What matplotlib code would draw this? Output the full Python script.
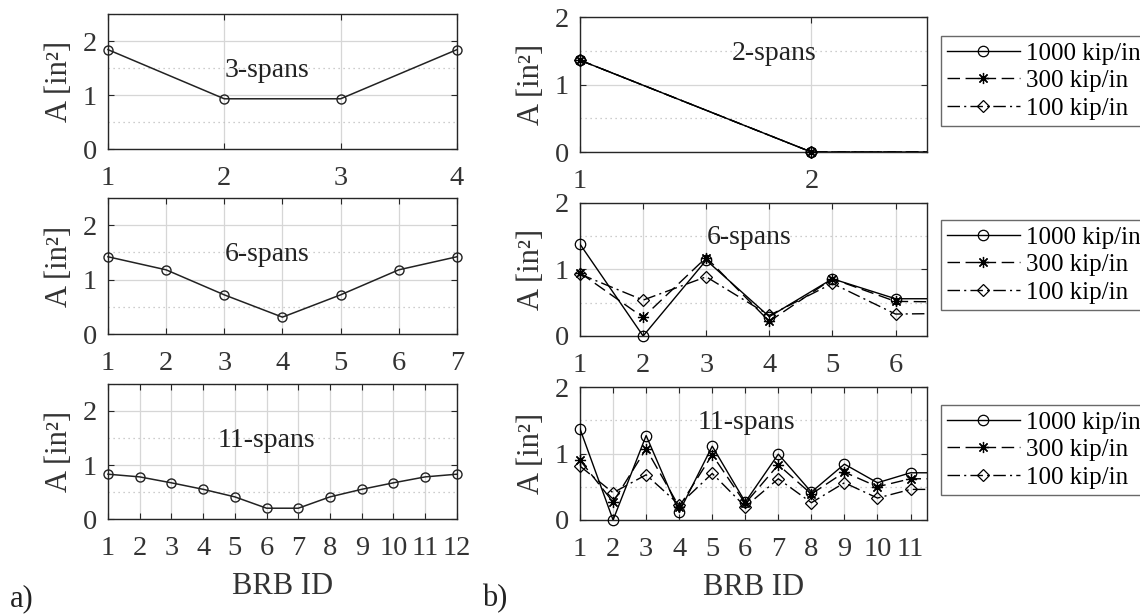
import numpy as np
import matplotlib
matplotlib.use("Agg")
import matplotlib.pyplot as plt
from matplotlib.lines import Line2D
from matplotlib.ticker import MultipleLocator

plt.rcParams['font.family'] = ['Liberation Serif', 'DejaVu Serif']
plt.rcParams['mathtext.fontset'] = 'stix'

# ---------------- data ----------------
# a) uniform stiffness designs
a_3span = [1.84, 0.93, 0.93, 1.84]
a_6span = [1.42, 1.18, 0.72, 0.31, 0.72, 1.18, 1.42]
a_11span = [0.83, 0.78, 0.67, 0.55, 0.41, 0.20, 0.20, 0.41, 0.55, 0.67, 0.78, 0.83]

# b) stiffness series (last value lies beyond the visible axis range)
series_labels = ['1000 kip/in', '300 kip/in', '100 kip/in']
b_2span = {
    '1000 kip/in': [1.36, 0.00, 0.00],
    '300 kip/in': [1.36, 0.00, 0.00],
    '100 kip/in': [1.36, 0.00, 0.00],
}
b_6span = {
    '1000 kip/in': [1.38, 0.00, 1.14, 0.29, 0.86, 0.56, 0.56],
    '300 kip/in': [0.95, 0.28, 1.18, 0.22, 0.86, 0.52, 0.51],
    '100 kip/in': [0.93, 0.54, 0.89, 0.31, 0.79, 0.33, 0.34],
}
b_11span = {
    '1000 kip/in': [1.37, 0.00, 1.27, 0.12, 1.11, 0.27, 0.99, 0.42, 0.84, 0.56, 0.71, 0.71],
    '300 kip/in': [0.90, 0.27, 1.07, 0.20, 0.98, 0.25, 0.83, 0.39, 0.72, 0.50, 0.62, 0.62],
    '100 kip/in': [0.81, 0.41, 0.68, 0.23, 0.70, 0.20, 0.62, 0.26, 0.56, 0.33, 0.46, 0.46],
}
b_visible = [2, 6, 11]  # number of BRBs shown on each b) panel

styles = {
    '1000 kip/in': dict(marker='o', dashes=(None, None), ms=7.5),
    '300 kip/in': dict(marker=(8, 2, 0), dashes=(9, 4), ms=8),
    '100 kip/in': dict(marker='D', dashes=(9, 3, 1.5, 3), ms=6.5),
}

FS_TICK = 20.5
FS_LABEL = 22
FS_TEXT = 20
FS_LEG = 18
SPINE = '#262626'

fig = plt.figure(figsize=(11.4, 6.14), dpi=100)


def style_axes(ax, ymax, yminor):
    for s in ax.spines.values():
        s.set_color(SPINE)
        s.set_linewidth(1.0)
    ax.tick_params(axis='both', which='major', direction='in', length=4,
                   width=0.8, colors=SPINE, labelcolor='#333333',
                   labelsize=FS_TICK, top=True, right=True)
    ax.tick_params(axis='x', pad=12)
    ax.tick_params(axis='y', pad=8)
    ax.tick_params(axis='both', which='minor', length=0)
    ax.set_ylim(0, ymax)
    ax.set_yticks([0, 1, 2])
    ax.yaxis.set_minor_locator(MultipleLocator(yminor))
    ax.grid(True, which='major', color='#d6d6d6', linewidth=0.9, linestyle='-')
    ax.grid(True, which='minor', axis='y', color='#bdbdbd', linewidth=0.9,
            linestyle=(0, (1, 3)))
    ax.set_axisbelow(True)
    ax.set_ylabel('A [in²]', fontsize=FS_LABEL, color='#333333', labelpad=6)


# ---------------- a) panels ----------------
a_data = [(a_3span, '3-spans'), (a_6span, '6-spans'), (a_11span, '11-spans')]
a_rects = [(0.0947, 0.7573, 0.3061, 0.2199),
           (0.0947, 0.4560, 0.3061, 0.2215),
           (0.0947, 0.1547, 0.3061, 0.2199)]
for (vals, name), rect in zip(a_data, a_rects):
    ax = fig.add_axes(rect)
    x = np.arange(1, len(vals) + 1)
    ax.plot(x, vals, color='#222222', lw=1.1, marker='o', ms=6.5,
            mfc='none', mec='#222222', mew=1.0, clip_on=False, zorder=5)
    ax.set_xlim(1, len(vals))
    ax.set_xticks(x)
    style_axes(ax, 2.5, 0.5)
    ax.text(0.455, 0.585, name, transform=ax.transAxes, ha='center',
            va='center', fontsize=FS_TEXT, color='#222222')
    last_a = ax
last_a.set_xlabel('BRB ID', fontsize=FS_LABEL, color='#333333', labelpad=8)

# ---------------- b) panels ----------------
b_data = [(b_2span, '2-spans', (0.56, 0.73)),
          (b_6span, '6-spans', (0.487, 0.737)),
          (b_11span, '11-spans', (0.48, 0.73))]
b_rects = [(0.5088, 0.7524, 0.3044, 0.2199),
           (0.5088, 0.4528, 0.3044, 0.2166),
           (0.5088, 0.1531, 0.3044, 0.2166)]
leg_tops = [0.9414, 0.6417, 0.3404]
for (data, name, tpos), rect, nvis, ltop in zip(b_data, b_rects, b_visible, leg_tops):
    ax = fig.add_axes(rect)
    handles = []
    for lab in series_labels:
        vals = np.array(data[lab])
        x = np.arange(1, len(vals) + 1)
        st = styles[lab]
        ln, = ax.plot(x, vals, color='black', lw=1.0, zorder=4)
        if st['dashes'][0] is not None:
            ln.set_dashes(st['dashes'])
        vis = x <= nvis
        ax.plot(x[vis], vals[vis], ls='none', marker=st['marker'], ms=st['ms'],
                mfc='none', mec='black', mew=0.9, clip_on=False, zorder=5)
        h = Line2D([], [], color='black', lw=1.0, marker=st['marker'],
                   ms=st['ms'], mfc='none', mec='black', mew=0.9)
        if st['dashes'][0] is not None:
            h.set_dashes(st['dashes'])
        handles.append(h)
    ax.set_xlim(1, nvis + 0.5)
    ax.set_xticks(np.arange(1, nvis + 1))
    style_axes(ax, 2, 0.5)
    ax.text(tpos[0], tpos[1], name, transform=ax.transAxes, ha='center',
            va='center', fontsize=FS_TEXT, color='#222222')
    leg = fig.legend(handles, series_labels, loc='upper left',
                     bbox_to_anchor=(0.8254, ltop), fontsize=FS_LEG,
                     frameon=True, fancybox=False, handlelength=2.9,
                     handletextpad=0.25, labelspacing=0.2, borderpad=0.25,
                     borderaxespad=0.0)
    leg.get_frame().set_edgecolor('#444444')
    leg.get_frame().set_linewidth(1.0)
    last_b = ax
last_b.set_xlabel('BRB ID', fontsize=FS_LABEL, color='#333333', labelpad=8)

fig.text(0.009, 0.012, 'a)', fontsize=FS_LABEL, color='#222222')
fig.text(0.423, 0.012, 'b)', fontsize=FS_LABEL, color='#222222')

fig.savefig('out.png', dpi=100)
